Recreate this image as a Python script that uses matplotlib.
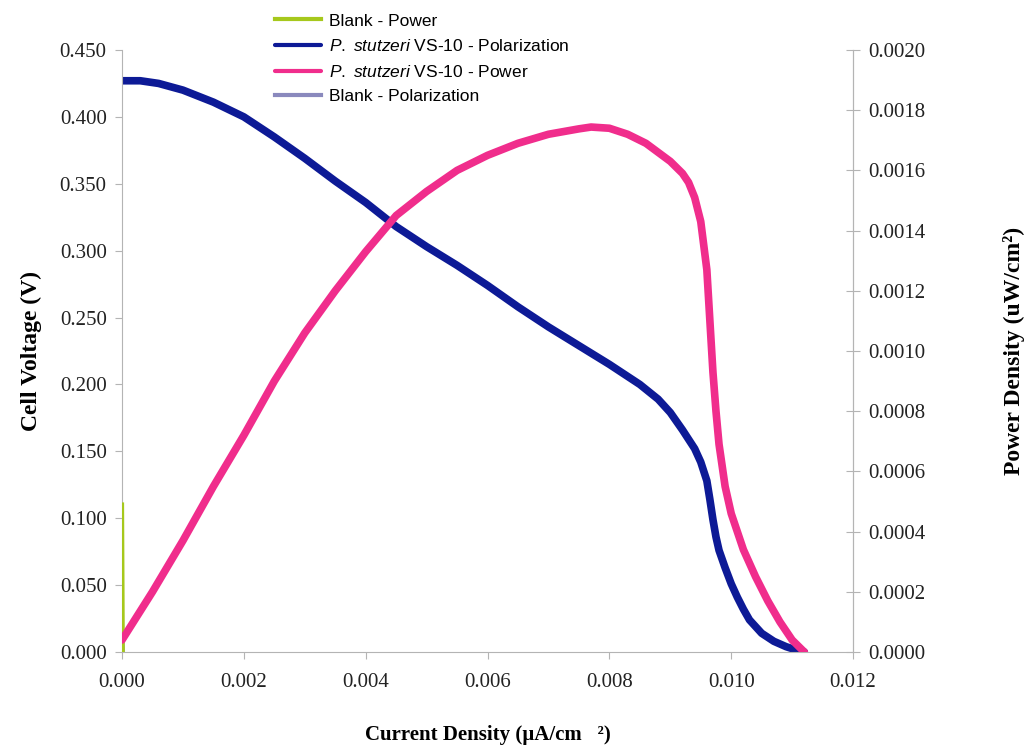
import matplotlib.pyplot as plt

current = [0.0, 0.0003, 0.0006, 0.0010, 0.0015, 0.0020, 0.0025, 0.0030, 0.0035,
           0.0040, 0.0045, 0.0050, 0.0055, 0.0060, 0.0065, 0.0070, 0.0075,
           0.0080, 0.0085, 0.0088, 0.0090, 0.0092, 0.0094, 0.0095, 0.0096,
           0.00965, 0.0097, 0.00975, 0.0098, 0.0099, 0.0100, 0.0101, 0.0102,
           0.0103, 0.0105, 0.0107, 0.0109, 0.0111, 0.0112]
voltage = [0.427, 0.427, 0.425, 0.420, 0.411, 0.400, 0.385, 0.369, 0.352,
           0.336, 0.318, 0.303, 0.289, 0.274, 0.258, 0.243, 0.229,
           0.215, 0.200, 0.189, 0.179, 0.166, 0.152, 0.142, 0.128,
           0.114, 0.099, 0.086, 0.076, 0.063, 0.051, 0.041, 0.032,
           0.024, 0.014, 0.008, 0.004, 0.001, 0.0]

power_current = [0.0, 0.0005, 0.0010, 0.0015, 0.0020, 0.0025, 0.0030, 0.0035,
                 0.0040, 0.0045, 0.0050, 0.0055, 0.0060, 0.0065, 0.0070, 0.0075,
                 0.0077, 0.0080, 0.0083, 0.0086, 0.0088, 0.0090, 0.0092, 0.0093,
                 0.0094, 0.0095, 0.0096, 0.00965, 0.0097, 0.00975, 0.0098, 0.0099,
                 0.0100, 0.0101, 0.0102, 0.0104, 0.0106, 0.0108, 0.0110, 0.0112]
power = [0.00004, 0.00020, 0.00037, 0.00055, 0.00072, 0.00090, 0.00106, 0.00120,
         0.00133, 0.00145, 0.00153, 0.00160, 0.00165, 0.00169, 0.00172, 0.001738,
         0.001744, 0.00174, 0.00172, 0.00169, 0.00166, 0.00163, 0.00159, 0.00156,
         0.00151, 0.00143, 0.00127, 0.00110, 0.00093, 0.00080, 0.00069, 0.00055,
         0.00046, 0.00040, 0.00034, 0.00025, 0.00017, 0.00010, 0.00004, 0.0]

blank_current = [0.0, 0.000005, 0.00001, 0.000012]
blank_power = [0.00049, 0.0003, 0.0001, 0.0]
blank_voltage = [0.012, 0.008, 0.004, 0.001]

BLUE = '#0d1a96'
PINK = '#f02d8c'
GREEN = '#a6c81c'
PURPLE = '#8a89bd'
GRAY = '#b4b4b4'

plt.rcParams['mathtext.fontset'] = 'custom'
plt.rcParams['mathtext.rm'] = 'Liberation Sans'
plt.rcParams['mathtext.it'] = 'Liberation Sans:italic'

fig = plt.figure(figsize=(10.35, 7.46), dpi=100)
ax = fig.add_axes([0.1179, 0.126, 0.7063, 0.807])
ax2 = ax.twinx()

line_kw = dict(solid_joinstyle='round', solid_capstyle='round')
l_bp, = ax2.plot(blank_current, blank_power, color=GREEN, lw=3, label='Blank - Power')
l_pol, = ax.plot(current, voltage, color=BLUE, lw=5.5, **line_kw,
                 label='$\\it{P.\\ stutzeri}$ VS-10 - Polarization')
l_pow, = ax2.plot(power_current, power, color=PINK, lw=5.5, **line_kw,
                  label='$\\it{P.\\ stutzeri}$ VS-10 - Power')
l_bpol, = ax.plot(blank_current, blank_voltage, color=PURPLE, lw=3, label='Blank - Polarization')

ax.set_xlim(0, 0.012)
ax.set_ylim(0, 0.45)
ax2.set_ylim(0, 0.002)
ax.set_xticks([0, 0.002, 0.004, 0.006, 0.008, 0.010, 0.012])
ax.set_xticklabels([f'{v:.3f}' for v in ax.get_xticks()])
ax.set_yticks([i * 0.05 for i in range(10)])
ax.set_yticklabels([f'{i * 0.05:.3f}' for i in range(10)])
ax2.set_yticks([i * 0.0002 for i in range(11)])
ax2.set_yticklabels([f'{i * 0.0002:.4f}' for i in range(11)])

serif = ['Liberation Serif', 'DejaVu Serif']
for a in (ax, ax2):
    a.spines['top'].set_visible(False)
    for s in ('left', 'right', 'bottom'):
        a.spines[s].set_color(GRAY)
    for lab in a.get_xticklabels() + a.get_yticklabels():
        lab.set_family(serif)
        lab.set_fontsize(15)
        lab.set_color('#222222')
ax2.spines['left'].set_visible(False)
ax2.spines['bottom'].set_visible(False)
ax.tick_params(axis='both', direction='out', length=5, color=GRAY, pad=6)
ax.tick_params(axis='x', pad=10)
ax2.tick_params(axis='y', direction='inout', length=10, color=GRAY, pad=6)

ax.set_xlabel('Current Density (µA/cm   ²)', family=serif, fontsize=15,
              fontweight='bold', labelpad=24)
ax.set_ylabel('Cell Voltage (V)', family=serif, fontsize=17, fontweight='bold', labelpad=13)
ax2.set_ylabel('Power Density (uW/cm²)', family=serif, fontsize=17, fontweight='bold',
               labelpad=56)

leg = fig.legend(handles=[l_bp, l_pol, l_pow, l_bpol], loc='upper left',
                 bbox_to_anchor=(0.251, 1.003), frameon=False, handlelength=2.6,
                 handletextpad=0.5, labelspacing=0.55,
                 prop={'family': ['Liberation Sans', 'DejaVu Sans'], 'size': 12.5})
for h in leg.get_lines():
    h.set_linewidth(3)

fig.savefig('out.png', dpi=100)
